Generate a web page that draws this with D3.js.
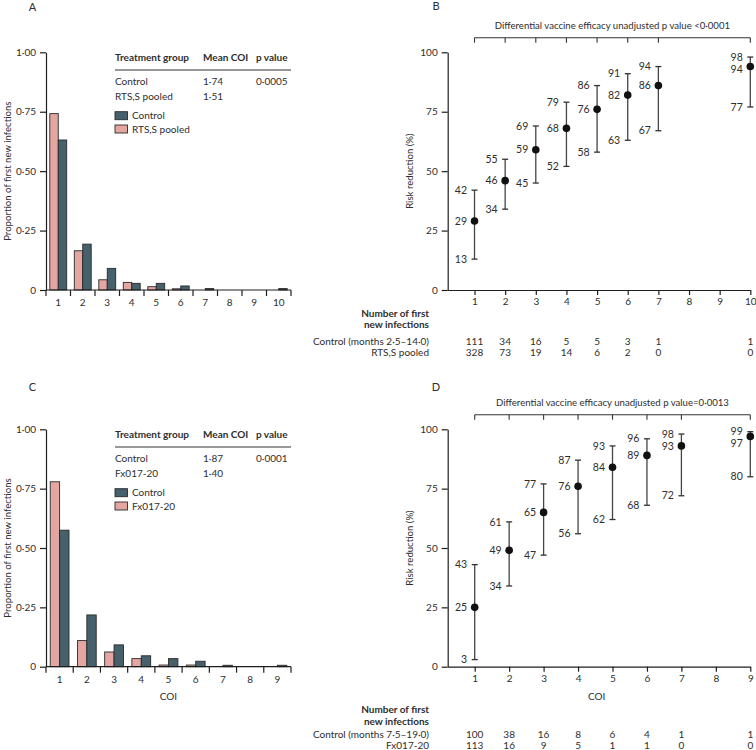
<!DOCTYPE html>
<html>
<head>
<meta charset="utf-8">
<script src="https://cdn.jsdelivr.net/npm/d3@7"></script>
<style>
  html, body { margin: 0; padding: 0; background: #fff; }
  svg text { font-family: Lato, "Open Sans", sans-serif; fill: #2e2e2e; }
</style>
</head>
<body>
<svg id="chart" width="756" height="750"></svg>
<script>
// ---------------- DATA ----------------
const coiA = ["1","2","3","4","5","6","7","8","9","10"];
const controlA = [0.631, 0.193, 0.091, 0.028, 0.028, 0.017, 0.006, 0, 0, 0.006];
const rtssA = [0.742, 0.165, 0.043, 0.032, 0.014, 0.005, 0, 0, 0, 0];

const coiC = ["1","2","3","4","5","6","7","8","9"];
const controlC = [0.575, 0.218, 0.092, 0.046, 0.034, 0.023, 0.006, 0, 0.006];
const fxC = [0.779, 0.110, 0.062, 0.034, 0.007, 0.007, 0, 0, 0];

const yTicksProp = [0, 0.25, 0.5, 0.75, 1];
const yTickPropLabels = ["0", "0·25", "0·50", "0·75", "1·00"];

const coiB = [1, 2, 3, 4, 5, 6, 7, 10];
const estB = [29, 46, 59, 68, 76, 82, 86, 94];
const loB  = [13, 34, 45, 52, 58, 63, 67, 77];
const hiB  = [42, 55, 69, 79, 86, 91, 94, 98];
const xTicksB = [1,2,3,4,5,6,7,8,9,10];
const nControlB = ["111","34","16","5","5","3","1","1"];
const nRtssB    = ["328","73","19","14","6","2","0","0"];

const coiD = [1, 2, 3, 4, 5, 6, 7, 9];
const estD = [25, 49, 65, 76, 84, 89, 93, 97];
const loD  = [3, 34, 47, 56, 62, 68, 72, 80];
const hiD  = [43, 61, 77, 87, 93, 96, 98, 99];
const xTicksD = [1,2,3,4,5,6,7,8,9];
const nControlD = ["100","38","16","8","6","4","1","1"];
const nFxD      = ["113","16","9","5","1","1","0","0"];

const yTicksRR = [0, 25, 50, 75, 100];

// ---------------- STYLE ----------------
const PINK = "#e3a6a1", TEAL = "#46606c", STROKE = "#2a2a2a", AXIS = "#1e1e1e";
const AXW = 1.2;
const svg = d3.select("#chart");

function barPanel(o) {
  const g = svg.append("g");
  const x = d3.scaleBand().domain(o.cats).range([46, 291]).padding(0);
  const sub = d3.scaleBand().domain(["trt","ctl"]).range([0, x.bandwidth()]).paddingInner(0).paddingOuter(0.45);
  const y = d3.scaleLinear().domain([0, 1]).range([o.bottom, o.top]);

  const rows = o.cats.map((c, i) => ({c, trt: o.trt[i], ctl: o.ctl[i]}));
  ["trt","ctl"].forEach(k => {
    g.selectAll(null).data(rows).enter().append("rect")
      .attr("x", d => x(d.c) + sub(k))
      .attr("width", sub.bandwidth())
      .attr("y", d => y(d[k]))
      .attr("height", d => y(0) - y(d[k]))
      .attr("fill", k === "trt" ? PINK : TEAL)
      .attr("stroke", STROKE).attr("stroke-width", 0.9)
      .attr("stroke-opacity", d => d[k] > 0 ? 1 : 0);
  });

  const ya = d3.axisLeft(y).tickValues(yTicksProp).tickFormat((d, i) => yTickPropLabels[i]).tickSize(6).tickSizeOuter(0);
  const yg = g.append("g").attr("transform", "translate(46,0)").call(ya);
  yg.select(".domain").attr("stroke", AXIS).attr("stroke-width", AXW);
  yg.selectAll(".tick line").attr("stroke", AXIS).attr("stroke-width", AXW);
  yg.selectAll("text").attr("font-size", 10).attr("font-family", "Lato").attr("fill", "#2e2e2e").attr("dx", "-1");

  g.append("line").attr("x1", 46).attr("x2", 291).attr("y1", y(0)).attr("y2", y(0)).attr("stroke", AXIS).attr("stroke-width", AXW);
  const bounds = o.cats.map(c => x(c)).concat([x(o.cats[o.cats.length-1]) + x.bandwidth()]);
  g.selectAll(null).data(bounds).enter().append("line")
    .attr("x1", d => d).attr("x2", d => d).attr("y1", y(0)).attr("y2", y(0) + 6).attr("stroke", AXIS).attr("stroke-width", AXW);
  g.selectAll(null).data(o.cats).enter().append("text")
    .attr("x", d => x(d) + x.bandwidth()/2).attr("y", y(0) + 12.5).attr("dy", "0.35em")
    .attr("text-anchor", "middle").attr("font-size", 10).text(d => d);
  if (o.xTitle) {
    g.append("text").attr("x", 168.5).attr("y", y(0) + 30).attr("dy", "0.35em")
      .attr("text-anchor", "middle").attr("font-size", 10).text(o.xTitle);
  }

  g.append("text").attr("transform", `translate(8,${(o.top + o.bottom)/2}) rotate(-90)`)
    .attr("text-anchor", "middle").attr("dy", "0.35em").attr("font-size", 9.6).text("Proportion of first new infections");

  g.append("text").attr("x", 32.5).attr("y", o.letterY).attr("dy", "0.35em").attr("text-anchor", "middle")
    .attr("font-size", 11).attr("fill", "#222").text(o.letter);

  const t = o.top;
  const cols = [115, 203, 256];
  ["Treatment group", "Mean COI", "p value"].forEach((s, i) =>
    g.append("text").attr("x", cols[i]).attr("y", t + 4.7).attr("dy", "0.35em")
      .attr("font-size", 10).attr("font-weight", "bold").attr("fill", "#222").text(s));
  g.append("line").attr("x1", 115).attr("x2", 291).attr("y1", t + 17.7).attr("y2", t + 17.7).attr("stroke", "#333").attr("stroke-width", 1.1);
  o.tableRows.forEach((r, j) => r.forEach((s, i) =>
    g.append("text").attr("x", cols[i]).attr("y", t + 29.4 + j * 14.6).attr("dy", "0.35em")
      .attr("font-size", 10).text(s)));
  [["Control", TEAL], [o.trtName, PINK]].forEach(([s, c], j) => {
    const cy = t + 63.4 + j * 13.3;
    g.append("rect").attr("x", 115).attr("y", cy - 4).attr("width", 12.5).attr("height", 8)
      .attr("fill", c).attr("stroke", STROKE).attr("stroke-width", 0.9);
    g.append("text").attr("x", 132).attr("y", cy).attr("dy", "0.35em").attr("font-size", 10).text(s);
  });
}

function rrPanel(o) {
  const g = svg.append("g");
  const x = d3.scaleLinear().domain(o.xDomain).range([447.7, 750.3]);
  const y = d3.scaleLinear().domain([0, 100]).range([o.bottom, o.top]);

  const ya = d3.axisLeft(y).tickValues(yTicksRR).tickSize(6).tickSizeOuter(0);
  const yg = g.append("g").attr("transform", "translate(447.7,0)").call(ya);
  yg.select(".domain").attr("stroke", AXIS).attr("stroke-width", AXW);
  yg.selectAll(".tick line").attr("stroke", AXIS).attr("stroke-width", AXW);
  yg.selectAll("text").attr("font-size", 10).attr("font-family", "Lato").attr("fill", "#2e2e2e").attr("dx", "-1");

  const xa = d3.axisBottom(x).tickValues(o.xTicks).tickSize(5).tickSizeOuter(0).tickPadding(3);
  const xg = g.append("g").attr("transform", `translate(0,${o.bottom})`).call(xa);
  xg.select(".domain").attr("stroke", AXIS).attr("stroke-width", AXW);
  xg.selectAll(".tick line").attr("stroke", AXIS).attr("stroke-width", AXW);
  xg.selectAll("text").attr("font-size", 10).attr("font-family", "Lato").attr("fill", "#2e2e2e");
  if (o.xTitle) {
    g.append("text").attr("x", 596.7).attr("y", o.bottom + 30).attr("dy", "0.35em")
      .attr("text-anchor", "middle").attr("font-size", 10).text(o.xTitle);
  }

  g.append("text").attr("transform", `translate(409.5,${(o.top + o.bottom)/2}) rotate(-90)`)
    .attr("text-anchor", "middle").attr("dy", "0.35em").attr("font-size", 9.6).text("Risk reduction (%)");

  g.append("text").attr("x", 436).attr("y", o.letterY).attr("dy", "0.35em").attr("text-anchor", "middle")
    .attr("font-size", 11).attr("fill", "#222").text(o.letter);

  const by = o.top - 14.6;
  g.append("line").attr("x1", x(o.coi[0])).attr("x2", x(o.coi[o.coi.length-1])).attr("y1", by).attr("y2", by)
    .attr("stroke", "#333").attr("stroke-width", 1.1);
  g.selectAll(null).data(o.coi).enter().append("line")
    .attr("x1", d => x(d)).attr("x2", d => x(d)).attr("y1", by).attr("y2", by + 5).attr("stroke", "#333").attr("stroke-width", 1.1);
  g.append("text").attr("x", (x(o.coi[0]) + x(o.coi[o.coi.length-1])) / 2).attr("y", by - 11.7).attr("dy", "0.35em")
    .attr("text-anchor", "middle").attr("font-size", 9.6).text(o.title);

  o.coi.forEach((c, i) => {
    const cx = x(c);
    g.append("line").attr("x1", cx).attr("x2", cx).attr("y1", y(o.lo[i])).attr("y2", y(o.hi[i]))
      .attr("stroke", "#444").attr("stroke-width", 1.3);
    [o.lo[i], o.hi[i]].forEach(v =>
      g.append("line").attr("x1", cx - 3).attr("x2", cx + 3).attr("y1", y(v)).attr("y2", y(v))
        .attr("stroke", "#333").attr("stroke-width", 1.3));
    g.append("circle").attr("cx", cx).attr("cy", y(o.est[i])).attr("r", 3.8).attr("fill", "#111");

    const yHi = y(o.hi[i]);
    let yEst = Math.max(y(o.est[i]), yHi + 12);
    let yLo = Math.max(y(o.lo[i]), yEst + 12);
    [[o.hi[i], yHi], [o.est[i], yEst], [o.lo[i], yLo]].forEach(([v, yy]) =>
      g.append("text").attr("x", cx - 7.5).attr("y", yy).attr("dy", "0.35em").attr("text-anchor", "end")
        .attr("font-size", 10.5).text(v));
  });

  const tx = 429;
  g.append("text").attr("x", tx).attr("y", o.tableY[0]).attr("dy", "0.35em").attr("text-anchor", "end")
    .attr("font-size", 10).attr("font-weight", "bold").attr("fill", "#222").text("Number of first");
  g.append("text").attr("x", tx).attr("y", o.tableY[1]).attr("dy", "0.35em").attr("text-anchor", "end")
    .attr("font-size", 10).attr("font-weight", "bold").attr("fill", "#222").text("new infections");
  [[o.rowNames[0], o.nCtl, o.tableY[2]], [o.rowNames[1], o.nTrt, o.tableY[3]]].forEach(([name, vals, yy]) => {
    g.append("text").attr("x", tx).attr("y", yy).attr("dy", "0.35em").attr("text-anchor", "end")
      .attr("font-size", 10).text(name);
    g.selectAll(null).data(o.coi).enter().append("text")
      .attr("x", d => x(d)).attr("y", yy).attr("dy", "0.35em").attr("text-anchor", "middle")
      .attr("font-size", 10).text((d, i) => vals[i]);
  });
}

barPanel({cats: coiA, trt: rtssA, ctl: controlA, top: 52.3, bottom: 290, letter: "A", letterY: 7,
  trtName: "RTS,S pooled", tableRows: [["Control", "1·74", "0·0005"], ["RTS,S pooled", "1·51", ""]]});
barPanel({cats: coiC, trt: fxC, ctl: controlC, top: 429.3, bottom: 666.7, letter: "C", letterY: 387, xTitle: "COI",
  trtName: "Fx017-20", tableRows: [["Control", "1·87", "0·0001"], ["Fx017-20", "1·40", ""]]});

rrPanel({coi: coiB, est: estB, lo: loB, hi: hiB, xTicks: xTicksB, xDomain: [0.125, 10], top: 52.3, bottom: 290,
  letter: "B", letterY: 6, title: "Differential vaccine efficacy unadjusted p value <0·0001",
  rowNames: ["Control (months 2·5–14·0)", "RTS,S pooled"], nCtl: nControlB, nTrt: nRtssB,
  tableY: [313.3, 324.8, 341, 352.5]});
rrPanel({coi: coiD, est: estD, lo: loD, hi: hiD, xTicks: xTicksD, xDomain: [0.216, 9], top: 429.3, bottom: 666.7,
  letter: "D", letterY: 387, title: "Differential vaccine efficacy unadjusted p value=0·0013", xTitle: "COI",
  rowNames: ["Control (months 7·5–19·0)", "Fx017-20"], nCtl: nControlD, nTrt: nFxD,
  tableY: [709.5, 721, 734.5, 745]});
</script>
</body>
</html>
